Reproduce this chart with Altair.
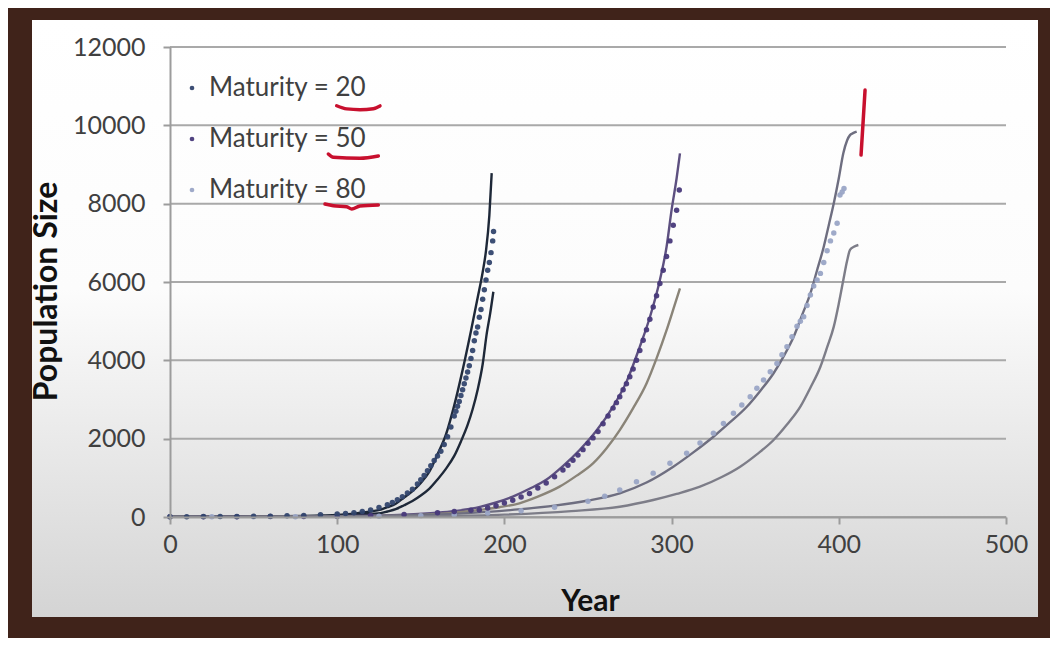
import altair as alt
import pandas as pd

# ---------------- data: (year, population size) ----------------
m20_dots = [(0, 8), (10, 9), (20, 11), (30, 13), (40, 15), (50, 18), (60, 22), (70, 30), (80, 40), (90, 55),
            (100, 75), (105, 90), (110, 110), (115, 140), (120, 180), (125, 240), (130, 310),
            (133, 370), (136, 440), (139, 520), (142, 610), (145, 710), (148, 840),
            (150, 950), (152, 1060), (154, 1180), (156, 1310), (158, 1440), (160, 1560), (162, 1680),
            (164, 1850), (166, 2050), (168, 2300), (170, 2580), (171, 2700), (172, 2830), (173, 2950),
            (174, 3100), (175, 3250), (176, 3400), (177, 3550), (178, 3700), (179, 3860), (180, 4050),
            (181, 4250), (182, 4500), (183, 4700), (184, 4850), (185, 5100), (186, 5300), (187, 5560),
            (188, 5800), (189, 6050), (190, 6300), (191, 6500), (192, 6750), (193, 7050), (193.5, 7290)]
m20_upper = [(0, 5), (20, 8), (40, 12), (60, 18), (80, 28), (90, 38), (100, 50), (110, 85), (120, 140),
             (126, 190), (130, 250), (135, 340), (140, 500), (145, 660), (150, 870), (155, 1150),
             (160, 1600), (165, 2100), (170, 2850), (175, 3750), (180, 4750), (184, 5600), (187, 6250),
             (189, 6800), (191, 7700), (192.4, 8780)]
m20_lower = [(0, 3), (20, 5), (40, 7), (60, 10), (80, 16), (100, 30), (110, 50), (120, 80), (126, 100),
             (130, 140), (135, 200), (140, 300), (145, 410), (150, 550), (155, 720), (160, 960),
             (165, 1230), (170, 1560), (174, 1930), (178, 2350), (181, 2750), (184, 3250), (187, 3900),
             (189.5, 4700), (191.5, 5200), (193.4, 5750)]

m50_dots = [(0, 5), (20, 6), (40, 8), (60, 10), (80, 14), (100, 22), (120, 38), (140, 65), (160, 110),
            (170, 140), (180, 170), (185, 180), (190, 230), (195, 290), (200, 360), (205, 430), (210, 510),
            (215, 600), (220, 740), (225, 870), (230, 1030), (235, 1200), (238, 1320), (241, 1450),
            (244, 1580), (247, 1720), (250, 1880), (253, 2020), (256, 2180), (259, 2380), (262, 2580),
            (265, 2780), (267, 2920), (269, 3070), (271, 3250), (273, 3400), (275, 3580), (277, 3780),
            (279, 4000), (281, 4250), (283, 4510), (285, 4780), (287, 5050), (289, 5360), (291, 5650),
            (293, 5960), (295, 6300), (297, 6650), (299, 7050), (301, 7450), (303, 7830), (304.6, 8350)]
m50_upper = [(0, 4), (40, 6), (80, 10), (100, 20), (120, 35), (140, 60), (160, 110), (170, 150), (180, 210),
             (186, 265), (195, 370), (205, 520), (215, 720), (225, 950), (235, 1300), (245, 1710),
             (255, 2200), (265, 2820), (273, 3450), (281, 4350), (287, 5100), (293, 6050), (297, 6900),
             (300, 7840), (303, 8650), (305, 9285)]
m50_lower = [(0, 3), (40, 4), (80, 7), (100, 12), (120, 22), (140, 40), (160, 75), (175, 130), (185, 180),
             (197, 250), (209, 350), (220, 520), (233, 775), (243, 1050), (253, 1370), (261, 1750),
             (269, 2220), (277, 2780), (285, 3410), (291, 4050), (297, 4770), (301, 5300), (305, 5840)]

m80_dots = [(0, 4), (25, 5), (50, 6), (75, 8), (100, 12), (125, 20), (150, 35), (170, 60), (190, 100),
            (210, 160), (230, 250), (250, 400), (260, 530), (269, 690), (279, 900), (289, 1120),
            (299, 1370), (309, 1630), (317, 1890), (325, 2140), (331, 2390), (337, 2650), (342, 2860),
            (347, 3070), (351, 3290), (355, 3500), (359, 3710), (363, 3920), (366, 4140), (369, 4350),
            (372, 4600), (375, 4870), (377, 5000), (379, 5110), (381, 5400), (383, 5670), (385, 5900),
            (387, 6050), (389, 6220), (391, 6500), (393, 6800), (395, 7050), (397, 7250), (399, 7500),
            (400.7, 8220), (402, 8300), (403.1, 8390)]
m80_upper = [(0, 3), (50, 5), (100, 15), (130, 30), (150, 50), (170, 80), (190, 130), (210, 200), (230, 290),
             (250, 420), (269, 605), (285, 880), (301, 1284), (313, 1650), (325, 2050), (335, 2420),
             (345, 2816), (353, 3220), (361, 3670), (367, 4100), (373, 4600), (378, 5150), (383, 5710),
             (387, 6300), (391, 6900), (394, 7450), (397, 8010), (400, 8650), (402.7, 9285), (405, 9620),
             (406.7, 9750), (408.5, 9800), (410.7, 9840)]
m80_lower = [(0, 2), (50, 4), (100, 8), (150, 20), (200, 60), (240, 150), (269, 263), (289, 434), (303, 590),
             (317, 774), (330, 1020), (341, 1284), (351, 1600), (361, 1966), (369, 2360), (377, 2816),
             (383, 3300), (389, 3837), (393, 4330), (397, 4860), (400, 5450), (402.7, 6050), (405, 6550),
             (406.7, 6820), (409, 6900), (411.7, 6944)]

# red hand-drawn annotations, in data units
red_under_20 = [(99.7, 10500), (105.7, 10420), (113.6, 10400), (121.6, 10425), (125.6, 10495)]
red_under_50 = [(94.7, 9267), (97.7, 9183), (113.6, 9158), (124.6, 9216)]
red_under_80 = [(92.7, 7991), (97.7, 7948), (105.7, 7922), (108.7, 7863), (113.6, 7940), (124.6, 7966)]
red_bar = [(415.7, 10901), (414.6, 10135), (413.3, 9242)]

series_names = ["Maturity = 20", "Maturity = 50", "Maturity = 80"]
dot_colors = ["#33466e", "#48397a", "#9aa5c6"]
curve_names = ["m20 upper", "m20 lower", "m50 upper", "m50 lower", "m80 upper", "m80 lower"]
curve_colors = ["#1e2838", "#1e2838", "#5d5080", "#8a8478", "#6e6e80", "#7d7d88"]
curve_widths = [2.4, 2.4, 1.7, 1.4, 1.6, 1.5]

x_ticks = [0, 100, 200, 300, 400, 500]
y_ticks = [0, 2000, 4000, 6000, 8000, 10000, 12000]

# ---------------- tables ----------------
dots_rows = []
for name, pts in [("Maturity = 80", m80_dots), ("Maturity = 50", m50_dots), ("Maturity = 20", m20_dots)]:
    for yr, p in pts:
        dots_rows.append({"year": yr, "pop": p, "series": name})
dots_df = pd.DataFrame(dots_rows)

curve_rows = []
for name, pts in zip(curve_names, [m20_upper, m20_lower, m50_upper, m50_lower, m80_upper, m80_lower]):
    for yr, p in pts:
        curve_rows.append({"year": yr, "pop": p, "curve": name})
curves_df = pd.DataFrame(curve_rows)

red_rows = []
for name, pts in [("u20", red_under_20), ("u50", red_under_50), ("u80", red_under_80), ("bar", red_bar)]:
    for i, (yr, p) in enumerate(pts):
        red_rows.append({"year": yr, "pop": p, "mark": name, "k": i})
red_df = pd.DataFrame(red_rows)

grid_df = pd.DataFrame({"pop": y_ticks})

# ---------------- encodings ----------------
FONT = "Lato"
x_axis = alt.Axis(values=x_ticks, grid=False, labelFlush=False, labelOverlap=False,
                  domainColor="#9c9c9c", domainWidth=2, tickColor="#9c9c9c", tickWidth=2, tickSize=7,
                  labelFont=FONT, labelFontSize=25, labelColor="#404040", labelPadding=8,
                  title="Year", titleFont=FONT, titleFontSize=30, titleFontWeight="bold", titleColor="#111111",
                  titleX=420, titleY=84, titleAlign="center", titleBaseline="middle", zindex=1)
y_axis = alt.Axis(values=y_ticks, format="d", grid=False, labelFlush=False, labelOverlap=False,
                  domainColor="#9c9c9c", domainWidth=2, tickColor="#9c9c9c", tickWidth=2, tickSize=7,
                  labelFont=FONT, labelFontSize=25, labelColor="#404040", labelPadding=18,
                  title="Population Size", titleFont=FONT, titleFontSize=32, titleFontWeight="bold",
                  titleColor="#111111", titleAngle=270, titleX=-124, titleY=244, titleAlign="center",
                  titleBaseline="middle", zindex=1)

x_enc = alt.X("year:Q", scale=alt.Scale(domain=[0, 500], nice=False, zero=False), axis=x_axis)
y_enc = alt.Y("pop:Q", scale=alt.Scale(domain=[0, 12000], nice=False), axis=y_axis)

panel_fill = alt.Gradient(
    gradient="linear",
    stops=[alt.GradientStop(color="#ffffff", offset=0),
           alt.GradientStop(color="#fcfcfc", offset=0.45),
           alt.GradientStop(color="#d4d4d4", offset=1)],
    x1=0, x2=0, y1=0, y2=1)

panel = alt.Chart(pd.DataFrame({"a": [0]})).mark_rect(fill=panel_fill).encode(
    x=alt.value(-138), x2=alt.value(868), y=alt.value(-27), y2=alt.value(570))

grid = alt.Chart(grid_df).mark_rule(color="#a9a9a9", strokeWidth=2).encode(
    y=y_enc, x=alt.value(0), x2=alt.value(836))

curves = alt.Chart(curves_df).mark_line(interpolate="monotone").encode(
    x=x_enc, y=y_enc,
    color=alt.Color("curve:N", scale=alt.Scale(domain=curve_names, range=curve_colors), legend=None),
    strokeWidth=alt.StrokeWidth("curve:N", scale=alt.Scale(domain=curve_names, range=curve_widths), legend=None),
    detail="curve:N")

dots = alt.Chart(dots_df).mark_point(filled=True, size=30, opacity=0.95).encode(
    x=x_enc, y=y_enc,
    color=alt.Color("series:N", scale=alt.Scale(domain=series_names, range=dot_colors),
                    legend=alt.Legend(title=None, orient="none", legendX=9, legendY=28, direction="vertical",
                                      labelFont=FONT, labelFontSize=26, labelColor="#404040", labelOffset=4,
                                      symbolType="circle", symbolSize=22, symbolStrokeWidth=0,
                                      rowPadding=25, padding=0, zindex=1)))

red = alt.Chart(red_df).mark_line(color="#c8102e", strokeWidth=3.5, strokeCap="round", interpolate="monotone").encode(
    x=x_enc, y=y_enc, detail="mark:N", order="k:Q")

chart = alt.layer(panel, grid, curves, dots, red).resolve_scale(
    color="independent", strokeWidth="independent"
).properties(
    width=836, height=470,
    padding={"left": 162, "top": 39, "right": 44, "bottom": 121},
    autosize=alt.AutoSizeParams(type="none"),
    background="#40231a",
).configure_view(strokeWidth=0)

chart.save("out.html", embed_options={"renderer": "svg", "actions": False})
